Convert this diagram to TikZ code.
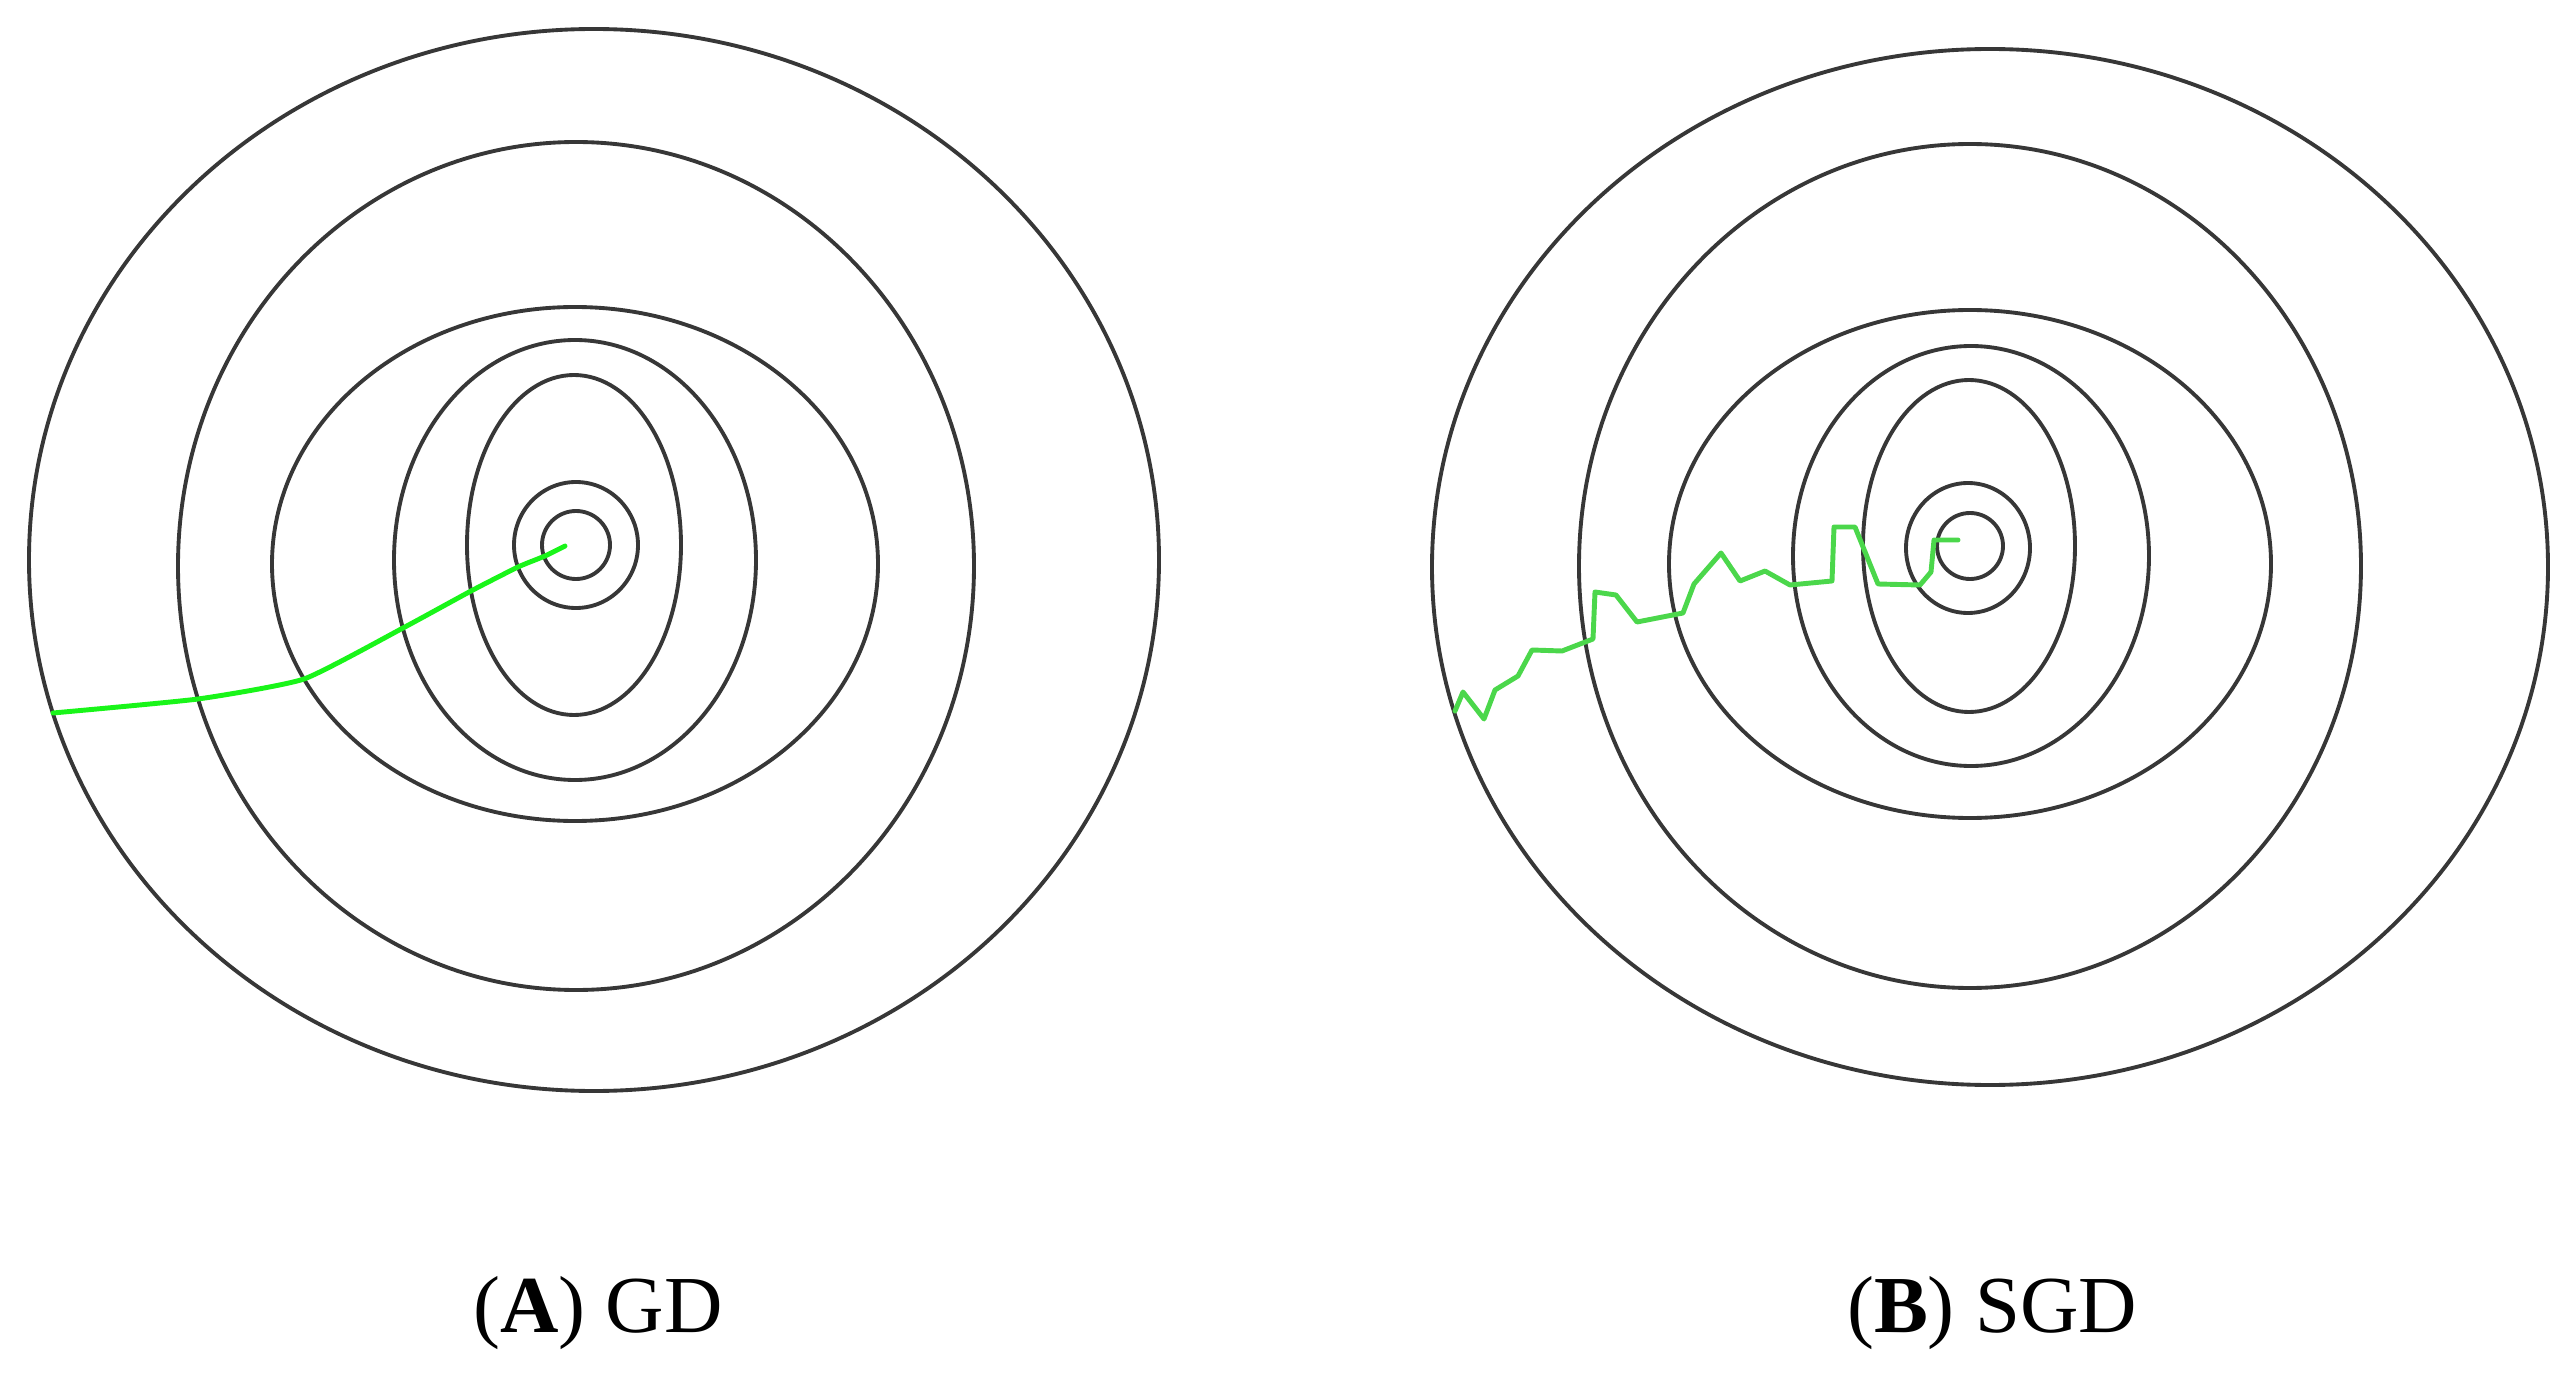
\documentclass[tikz,border=0pt]{standalone}
\usepackage{fontspec}
\setmainfont{Liberation Serif}

\definecolor{contour}{RGB}{55,55,55}
\definecolor{gdgreen}{RGB}{25,245,25}
\definecolor{sgdgreen}{RGB}{75,215,75}

\tikzset{
  contour line/.style={draw=contour, line width=1.1pt},
  descent path/.style={line width=1.4pt, line join=round, line cap=round},
  panel caption/.style={font=\fontsize{23}{28}\selectfont, anchor=base}
}

\begin{document}
\begin{tikzpicture}[x=0.01cm, y=-0.01cm]
    \useasboundingbox (0,0) rectangle (2565,1373);

    % level sets, panel A
    \foreach \cx/\cy/\rx/\ry in {576/545/34/34, 576/545/62/63, 574/545/107/170,
        575/560/181/220, 575/564/303/257, 576/566/398/424, 594/560/565/531}
      \draw [contour line] (\cx,\cy) ellipse [x radius=\rx, y radius=\ry];

    % level sets, panel B
    \foreach \cx/\cy/\rx/\ry in {1970/546/33/33, 1968/548/62/65, 1969/546/106/166,
        1971/556/178/210, 1970/564/301/254, 1970/566/391/422, 1990/567/558/518}
      \draw [contour line] (\cx,\cy) ellipse [x radius=\rx, y radius=\ry];

    % full gradient steps
    \draw [descent path, draw=gdgreen] plot [smooth, tension=0.3] coordinates {
      (53,713) (198,699) (304,679) (403,628) (471,591) (518,567) (545,556) (565,546)};

    % stochastic steps
    \draw [descent path, draw=sgdgreen] plot coordinates {
      (1455,711) (1463,692) (1484,719) (1495,690) (1518,676) (1532,650)
      (1562,651) (1593,639) (1595,592) (1616,595) (1637,622) (1683,613)
      (1694,584) (1721,553) (1740,581) (1765,571) (1790,585) (1832,581)
      (1834,527) (1855,527) (1878,584) (1920,585) (1931,572) (1934,540)
      (1958,540)};

    \node [panel caption] (caption-gd) at (598,1332) {(\textbf{A}) GD};
    \node [panel caption] (caption-sgd) at (1992,1332) {(\textbf{B}) SGD};

\end{tikzpicture}
\end{document}
